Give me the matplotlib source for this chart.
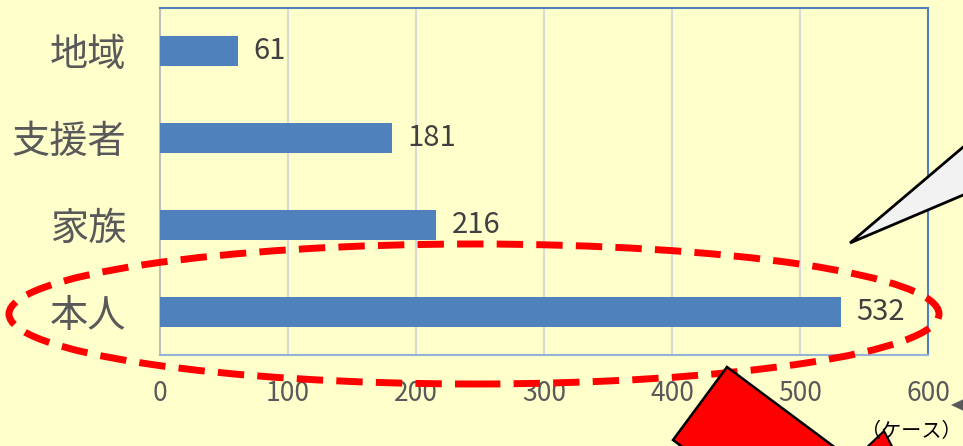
import numpy as np
import matplotlib.pyplot as plt
from matplotlib.patches import Ellipse, Polygon

plt.rcParams['font.family'] = ['Noto Sans CJK JP', 'DejaVu Sans']

categories = ['本人', '家族', '支援者', '地域']
values = [532, 216, 181, 61]
xticks = [0, 100, 200, 300, 400, 500, 600]

W, H = 963, 446
bg = '#FFFFCC'
bar_color = '#4F81BD'


def px(x, y):
    # pixel position (from top-left) -> figure fraction
    return (x / W, 1 - y / H)


fig = plt.figure(figsize=(W / 100, H / 100), dpi=100, facecolor=bg)
ax = fig.add_axes([160 / W, 1 - 355 / H, (928 - 160) / W, (355 - 8) / H])
ax.set_facecolor(bg)

pos = np.arange(len(categories))
ax.barh(pos, values, height=0.345, color=bar_color, zorder=3)
ax.set_xlim(0, 600)
ax.set_ylim(-0.5, len(categories) - 0.5)
ax.set_yticks(pos)
ax.set_yticklabels(categories, fontsize=27.5, color='#595959')
ax.set_xticks(xticks)
ax.set_xticklabels([str(t) for t in xticks], fontsize=19, color='#595959')
ax.tick_params(axis='y', length=0, pad=24)
ax.tick_params(axis='x', length=0, pad=18)
ax.grid(axis='x', color='#D9D9D9', linewidth=1.5, zorder=0)

for s in ['top', 'right']:
    ax.spines[s].set_color('#4F81BD')
    ax.spines[s].set_linewidth(1.5)
ax.spines['bottom'].set_color('#95B3D7')
ax.spines['bottom'].set_linewidth(1.5)
ax.spines['left'].set_color('#BFBFBF')
ax.spines['left'].set_linewidth(1.5)

for p, v in zip(pos, values):
    ax.annotate(str(v), (v, p), xytext=(11, 0), textcoords='offset points',
                ha='left', va='center', fontsize=21, color='#404040')

# red dashed ellipse around 本人
cx, cy = px(474, 314)
ell = Ellipse((cx, cy), 930 / W, 140 / H, transform=fig.transFigure,
              fill=False, edgecolor='#FF0000', linewidth=5,
              linestyle=(0, (3.8, 1.9)), zorder=10)
fig.patches.append(ell)

# speech bubble pointer
bubble = Polygon([px(850, 243), px(975, 137), px(975, 190)], closed=True,
                 transform=fig.transFigure, facecolor='#F2F2F2',
                 edgecolor='black', linewidth=2, zorder=11)
fig.patches.append(bubble)

# red arrow shapes at the bottom
a = np.array([727, 367])
b = np.array([673, 440])
d = np.array([106, 79]) * 2
rect = Polygon([px(*a), px(*b), px(*(b + d)), px(*(a + d))], closed=True,
               transform=fig.transFigure, facecolor='#FF0000',
               edgecolor='black', linewidth=1.8, zorder=12)
fig.patches.append(rect)
tri = Polygon([px(862, 452), px(884, 431), px(895, 452)], closed=True,
              transform=fig.transFigure, facecolor='#FF0000',
              edgecolor='black', linewidth=1.5, zorder=12)
fig.patches.append(tri)

# small gray pointer at right edge
gp = Polygon([px(951, 405), px(966, 398), px(966, 412)], closed=True,
             transform=fig.transFigure, facecolor='#595959',
             edgecolor='none', zorder=12)
fig.patches.append(gp)

fig.text(*px(861, 432), '（ケース）', fontsize=14.5, color='black',
         ha='left', va='center', zorder=13)

fig.savefig('out.png', dpi=100, facecolor=bg)
